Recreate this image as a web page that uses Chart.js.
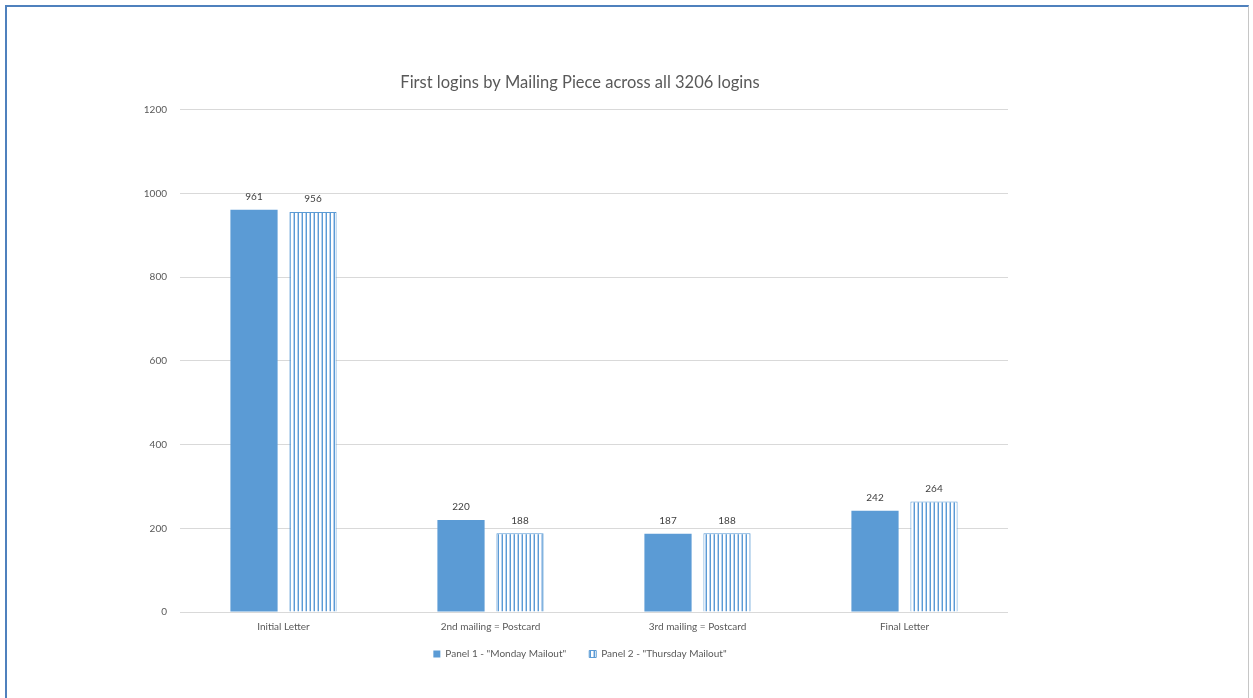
<!DOCTYPE html>
<html>
<head>
<meta charset="utf-8">
<script src="https://cdn.jsdelivr.net/npm/chart.js@4/dist/chart.umd.min.js"></script>
<style>
  html, body { margin: 0; padding: 0; background: #fff; }
  #wrap { position: relative; width: 1253px; height: 698px; overflow: hidden; }
  #frame {
    position: absolute; left: 5px; top: 5px; width: 1244px; height: 720px;
    border-left: 2px solid #4f81bd; border-top: 2px solid #4f81bd; border-right: 1px solid #c6c6c6;
    box-sizing: border-box; pointer-events: none;
  }
  canvas { position: absolute; left: 0; top: 0; }
</style>
</head>
<body>
<div id="wrap">
  <canvas id="chart" width="1253" height="698"></canvas>
  <div id="frame"></div>
</div>
<script>
const categories = ["Initial Letter", "2nd mailing = Postcard", "3rd mailing = Postcard", "Final Letter"];
const mondayMailout = [961, 220, 187, 242];
const thursdayMailout = [956, 188, 188, 264];
const seriesNames = ['Panel 1 - "Monday Mailout"', 'Panel 2 - "Thursday Mailout"'];
const yTicks = [0, 200, 400, 600, 800, 1000, 1200];

const BLUE = '#5b9bd5';
const FONT = 'Lato, "Open Sans", sans-serif';

// vertical-stripe fill for the second series
function stripePattern() {
  const c = document.createElement('canvas');
  c.width = 4; c.height = 4;
  const g = c.getContext('2d');
  g.fillStyle = '#ffffff'; g.fillRect(0, 0, 4, 4);
  g.fillStyle = '#b7d1ee'; g.fillRect(1, 0, 1, 4);
  g.fillStyle = BLUE; g.fillRect(2, 0, 1, 4);
  return g.createPattern(c, 'repeat');
}
const stripes = stripePattern();

// value labels above each bar
const valueLabels = {
  id: 'valueLabels',
  afterDatasetsDraw(chart) {
    const ctx = chart.ctx;
    ctx.save();
    ctx.font = '10px ' + FONT;
    ctx.fillStyle = '#404040';
    ctx.textAlign = 'center';
    ctx.textBaseline = 'bottom';
    chart.data.datasets.forEach((ds, i) => {
      chart.getDatasetMeta(i).data.forEach((bar, j) => {
        ctx.fillText(String(ds.data[j]), bar.x, bar.y - 8);
      });
    });
    ctx.restore();
  }
};

// nudge the title and legend boxes after layout
const blockNudge = {
  id: 'blockNudge',
  afterLayout(chart) {
    const lg = chart.legend;
    if (lg) { lg.top -= 16; lg.bottom -= 16; lg.left += 6; lg.right += 6; }
    const tb = chart.titleBlock;
    if (tb) { tb.left += 6; tb.right += 6; }
  }
};

new Chart(document.getElementById('chart'), {
  type: 'bar',
  data: {
    labels: categories,
    datasets: [
      { label: seriesNames[0], data: mondayMailout, backgroundColor: BLUE, borderColor: BLUE, borderWidth: 0 },
      { label: seriesNames[1], data: thursdayMailout, backgroundColor: stripes, borderColor: BLUE, borderWidth: 1 }
    ]
  },
  options: {
    responsive: false,
    animation: false,
    devicePixelRatio: 1,
    categoryPercentage: 0.57,
    barPercentage: 0.8,
    layout: { padding: { top: 70, right: 245, bottom: 13, left: 140 } },
    plugins: {
      title: {
        display: true,
        text: 'First logins by Mailing Piece across all 3206 logins',
        color: '#595959',
        font: { family: FONT, size: 16.5, weight: 'normal' },
        padding: { top: 3, bottom: 17 }
      },
      legend: {
        position: 'bottom',
        labels: {
          color: '#595959',
          font: { family: FONT, size: 10 },
          boxWidth: 7, boxHeight: 7,
          padding: 23
        }
      },
      tooltip: { enabled: false }
    },
    scales: {
      x: {
        grid: { display: false, drawTicks: false },
        border: { display: false },
        ticks: { color: '#595959', font: { family: FONT, size: 10 }, padding: 9 }
      },
      y: {
        min: 0, max: 1200,
        afterFit(scale) { scale.width = 40; },
        afterBuildTicks(scale) { scale.ticks = yTicks.map(v => ({ value: v })); },
        grid: { color: '#d9d9d9', drawTicks: false },
        border: { display: false },
        ticks: {
          color: '#595959', font: { family: FONT, size: 10 }, padding: 13,
          callback: v => String(v)
        }
      }
    }
  },
  plugins: [valueLabels, blockNudge]
});
</script>
</body>
</html>
